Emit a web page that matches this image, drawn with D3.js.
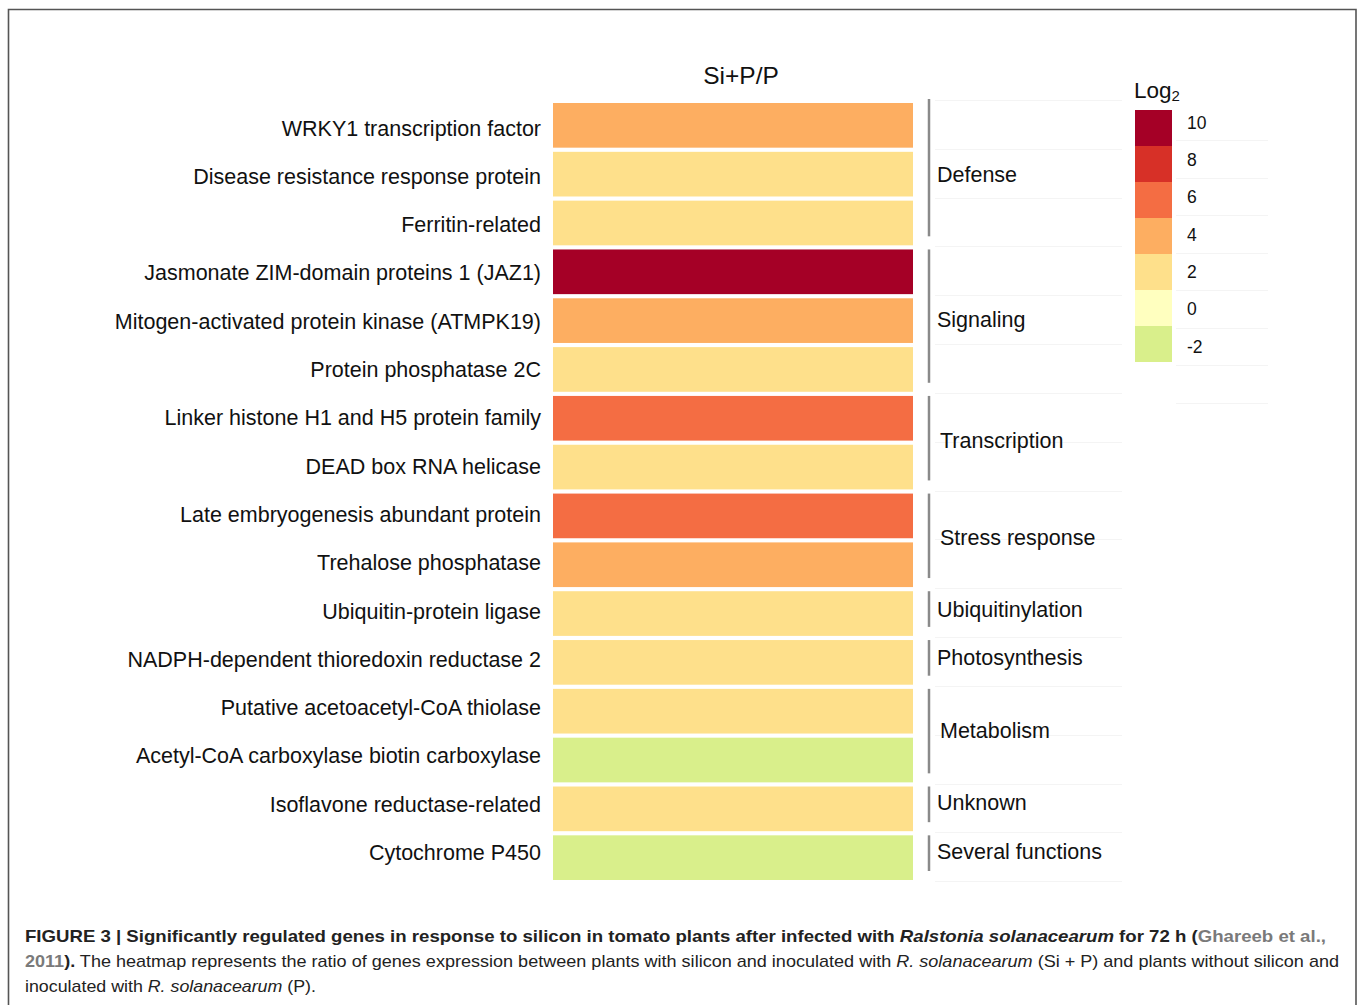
<!DOCTYPE html>
<html>
<head>
<meta charset="utf-8">
<script src="https://cdn.jsdelivr.net/npm/d3@7"></script>
<style>
  body { margin: 0; background: #fff; }
  text { font-family: "Liberation Sans", Arial, Helvetica, sans-serif; fill: #111; }
</style>
</head>
<body>
<svg id="chart" width="1358" height="1005"></svg>
<script>
// gene names, top to bottom
var genes = [
    "WRKY1 transcription factor",
    "Disease resistance response protein",
    "Ferritin-related",
    "Jasmonate ZIM-domain proteins 1 (JAZ1)",
    "Mitogen-activated protein kinase (ATMPK19)",
    "Protein phosphatase 2C",
    "Linker histone H1 and H5 protein family",
    "DEAD box RNA helicase",
    "Late embryogenesis abundant protein",
    "Trehalose phosphatase",
    "Ubiquitin-protein ligase",
    "NADPH-dependent thioredoxin reductase 2",
    "Putative acetoacetyl-CoA thiolase",
    "Acetyl-CoA carboxylase biotin carboxylase",
    "Isoflavone reductase-related",
    "Cytochrome P450"
];

// log2 ratio Si+P/P (binned as in the legend)
var log2Values = [4, 2, 2, 10, 4, 2, 6, 2, 6, 4, 2, 2, 2, -2, 2, -2];

// functional groups: name, first row, number of rows
var groupNames  = ["Defense", "Signaling", "Transcription", "Stress response", "Ubiquitinylation",
                   "Photosynthesis", "Metabolism", "Unknown", "Several functions"];
var groupStart  = [0, 3, 6, 8, 10, 11, 12, 14, 15];
var groupLength = [3, 3, 2, 2, 1, 1, 2, 1, 1];

// legend
var legendValues = [10, 8, 6, 4, 2, 0, -2];
var legendColors = ["#a50026", "#d73027", "#f46d43", "#fdae61", "#fee08b", "#ffffbf", "#d9ef8b"];

var svg = d3.select("#chart");

// frame round the figure
svg.append("path")
    .attr("d", "M8.5,1005 L8.5,9.5 L1356,9.5 L1356,1005")
    .attr("fill", "none")
    .attr("stroke", "#555")
    .attr("stroke-width", 1.6);

var color = d3.scaleOrdinal()
    .domain(legendValues)
    .range(legendColors);

// cell rows
var y = d3.scaleBand()
    .domain(d3.range(genes.length))
    .range([103, 880])
    .paddingInner(0.085)
    .paddingOuter(0);

// text rows (the labels sit on a slightly tighter pitch than the cells)
var yText = d3.scalePoint()
    .domain(d3.range(genes.length))
    .range([128, 852.5]);

var x0 = 553, x1 = 913;

// faint grid behind group labels
var grid = svg.append("g");
grid.selectAll("line")
    .data(d3.range(genes.length + 1))
    .enter().append("line")
    .attr("x1", 935).attr("x2", 1122)
    .attr("y1", function (i) { return Math.round(y.step() * i + 100) + 0.5; })
    .attr("y2", function (i) { return Math.round(y.step() * i + 100) + 0.5; })
    .attr("stroke", "#f4f4f4");

// column title
svg.append("text")
    .attr("x", (x0 + x1) / 2 + 8)
    .attr("y", 84)
    .attr("text-anchor", "middle")
    .style("font-size", "24.5px")
    .text("Si+P/P");

// heatmap cells
svg.append("g").selectAll("rect")
    .data(log2Values)
    .enter().append("rect")
    .attr("x", x0)
    .attr("width", x1 - x0)
    .attr("y", function (d, i) { return y(i); })
    .attr("height", y.bandwidth())
    .attr("fill", function (d) { return color(d); });

// row labels
svg.append("g").selectAll("text")
    .data(genes)
    .enter().append("text")
    .attr("x", 541)
    .attr("y", function (d, i) { return yText(i); })
    .attr("dy", "0.35em")
    .attr("text-anchor", "end")
    .style("font-size", "21.5px")
    .text(function (d) { return d; });

// group brackets and labels
var groups = svg.append("g").selectAll("g")
    .data(groupNames)
    .enter().append("g");

groups.append("line")
    .attr("x1", 929).attr("x2", 929)
    .attr("y1", function (d, i) { return y(groupStart[i]) + (i === 0 ? -4 : 0); })
    .attr("y2", function (d, i) {
        return y(groupStart[i] + groupLength[i] - 1) + y.bandwidth() - 9;
    })
    .attr("stroke", "#8a8a8a")
    .attr("stroke-width", 2.5);

groups.append("text")
    .attr("x", function (d, i) { return groupLength[i] === 2 ? 940 : 937; })
    .attr("y", function (d, i) {
        var first = yText(groupStart[i]);
        var last = yText(groupStart[i] + groupLength[i] - 1);
        return (first + last) / 2 - 1.5;
    })
    .attr("dy", "0.35em")
    .style("font-size", "21.5px")
    .text(function (d) { return d; });

// legend
var ly = d3.scaleBand()
    .domain(legendValues)
    .range([110, 362]);

var lyText = d3.scalePoint()
    .domain(legendValues)
    .range([122.5, 346.5]);

var legend = svg.append("g");

legend.selectAll("line")
    .data(d3.range(legendValues.length + 1))
    .enter().append("line")
    .attr("x1", 1176).attr("x2", 1268)
    .attr("y1", function (i) { return Math.round(140 + 37.5 * i) + 0.5; })
    .attr("y2", function (i) { return Math.round(140 + 37.5 * i) + 0.5; })
    .attr("stroke", "#f4f4f4");

legend.selectAll("rect")
    .data(legendValues)
    .enter().append("rect")
    .attr("x", 1135)
    .attr("width", 37)
    .attr("y", function (d) { return ly(d); })
    .attr("height", ly.bandwidth())
    .attr("fill", function (d) { return color(d); });

legend.selectAll("text")
    .data(legendValues)
    .enter().append("text")
    .attr("x", 1187)
    .attr("y", function (d) { return lyText(d); })
    .attr("dy", "0.35em")
    .style("font-size", "17.5px")
    .text(function (d) { return d; });

var lt = svg.append("text")
    .attr("x", 1134)
    .attr("y", 98)
    .style("font-size", "22.5px");
lt.append("tspan").text("Log");
lt.append("tspan").attr("dy", 3).style("font-size", "15px").text("2");

// caption
var captionLines = [
    [
        {t: "FIGURE 3 | Significantly regulated genes in response to silicon in tomato plants after infected with ", b: true},
        {t: "Ralstonia solanacearum", b: true, i: true},
        {t: " for 72 h (", b: true},
        {t: "Ghareeb et al.,", b: true, g: true}
    ],
    [
        {t: "2011", b: true, g: true},
        {t: ").", b: true},
        {t: " The heatmap represents the ratio of genes expression between plants with silicon and inoculated with "},
        {t: "R. solanacearum", i: true},
        {t: " (Si + P) and plants without silicon and"}
    ],
    [
        {t: "inoculated with "},
        {t: "R. solanacearum", i: true},
        {t: " (P)."}
    ]
];
var captionWidths = [1301, 1314, 291];

var caption = svg.append("g");
captionLines.forEach(function (parts, k) {
    var line = caption.append("text")
        .attr("x", 25)
        .attr("y", 942 + k * 25)
        .attr("textLength", captionWidths[k])
        .attr("lengthAdjust", "spacingAndGlyphs")
        .style("font-size", "17px")
        .style("font-family", "'Liberation Sans Narrow', 'Liberation Sans', Arial, sans-serif");
    parts.forEach(function (p) {
        line.append("tspan")
            .style("font-weight", p.b ? "bold" : "normal")
            .style("font-style", p.i ? "italic" : "normal")
            .style("fill", p.g ? "#7a7a7a" : "#222")
            .text(p.t);
    });
});
</script>
</body>
</html>
